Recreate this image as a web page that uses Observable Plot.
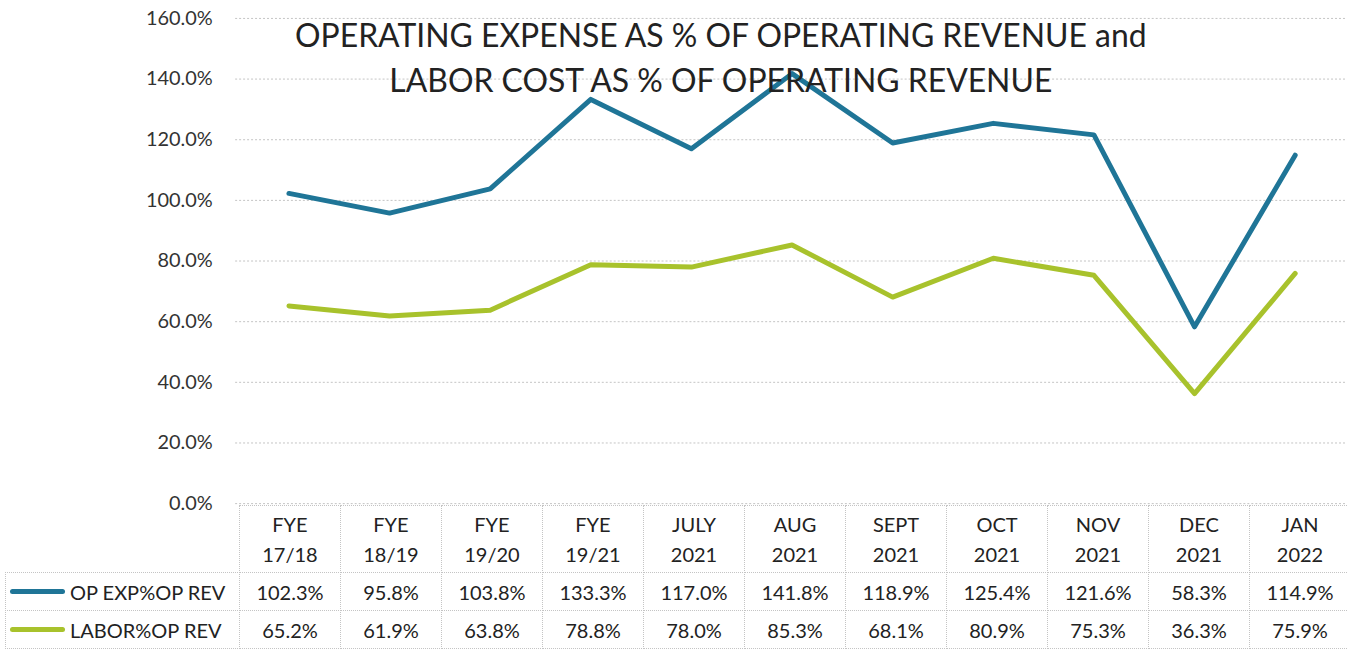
<!DOCTYPE html>
<html><head><meta charset="utf-8">
<script src="https://cdn.jsdelivr.net/npm/d3@7"></script>
<script src="https://cdn.jsdelivr.net/npm/@observablehq/plot@0.6"></script>
<style>
html,body{margin:0;padding:0;background:#fff;overflow:hidden;}
#wrap{position:relative;width:1347px;height:649px;overflow:hidden;font-family:Lato,"Noto Sans",sans-serif;color:#222;}
#wrap svg{position:absolute;left:0;top:0;}
.cell{position:absolute;box-sizing:border-box;border:1px dotted #c4c4c4;display:flex;align-items:center;justify-content:center;text-align:center;font-size:20px;line-height:30px;white-space:pre-line;}
.cell.legend{justify-content:flex-start;}
.swatch{width:55px;height:5px;border-radius:3px;margin:0 5px 0 4px;flex:none;}
</style>
</head><body>
<div id="wrap"></div>
<script>
const categories = ["FYE\n17/18","FYE\n18/19","FYE\n19/20","FYE\n19/21","JULY\n2021","AUG\n2021","SEPT\n2021","OCT\n2021","NOV\n2021","DEC\n2021","JAN\n2022"];
const opExpValues = [102.3, 95.8, 103.8, 133.3, 117.0, 141.8, 118.9, 125.4, 121.6, 58.3, 114.9];
const laborValues = [65.2, 61.9, 63.8, 78.8, 78.0, 85.3, 68.1, 80.9, 75.3, 36.3, 75.9];
const seriesNames = ["OP EXP%OP REV", "LABOR%OP REV"];
const seriesColors = ["#1f7597", "#a8c22c"];
const yTicks = [0, 20, 40, 60, 80, 100, 120, 140, 160];
const titleLines = ["OPERATING EXPENSE AS % OF OPERATING REVENUE and", "LABOR COST AS % OF OPERATING REVENUE"];

const seriesValues = [opExpValues, laborValues];
const rows = [];
seriesNames.forEach((s, i) => categories.forEach((c, j) => rows.push({series: s, category: c, value: seriesValues[i][j]})));
const fmt = d => d.toFixed(1) + "%";

const chart = Plot.plot({
  width: 1352, height: 525,
  marginLeft: 236, marginRight: 0, marginTop: 18, marginBottom: 20,
  style: {fontFamily: "Lato, 'Noto Sans', sans-serif", fontSize: "20px", background: "transparent"},
  x: {type: "band", domain: categories, padding: 0, axis: null},
  y: {domain: [0, 160], axis: null},
  color: {domain: seriesNames, range: seriesColors},
  marks: [
    Plot.gridY(yTicks, {stroke: "#c4c4c4", strokeOpacity: 1, strokeDasharray: "2,2"}),
    Plot.axisY(yTicks, {tickSize: 0, tickPadding: 23, tickFormat: fmt, fontSize: 20, fill: "#333", label: null}),
    Plot.line(rows, {x: "category", y: "value", z: "series", stroke: "series", strokeWidth: 5, strokeLinecap: "round", strokeLinejoin: "round"}),
    Plot.text([titleLines.join("\n")], {frameAnchor: "top", lineAnchor: "top", dx: -71, dy: -3, fontSize: 32, lineHeight: 1.4, fill: "#222"})
  ]
});
const wrap = document.getElementById("wrap");
wrap.appendChild(chart);

// data table below the plot, aligned on the band scale
const xs = chart.scale("x");
const bw = xs.bandwidth;
const tableTop = 505, headerH = 67, rowH = 38, legendLeft = 5;
function cell(left, top, w, h, html, cls) {
  const d = document.createElement("div");
  d.className = "cell" + (cls ? " " + cls : "");
  d.style.left = left + "px"; d.style.top = top + "px";
  d.style.width = (w + 1) + "px"; d.style.height = (h + 1) + "px";
  d.innerHTML = html;
  wrap.appendChild(d);
  return d;
}
categories.forEach(c => {
  const x0 = xs.apply(c);
  cell(x0, tableTop, bw, headerH, c);
  seriesValues.forEach((vals, i) => {
    cell(x0, tableTop + headerH + i * rowH, bw, rowH, fmt(vals[categories.indexOf(c)]));
  });
});
const firstX = xs.apply(categories[0]);
seriesNames.forEach((s, i) => {
  cell(legendLeft, tableTop + headerH + i * rowH, firstX - legendLeft, rowH,
    `<span class="swatch" style="background:${seriesColors[i]}"></span><span>${s}</span>`, "legend");
});
</script>
</body></html>
